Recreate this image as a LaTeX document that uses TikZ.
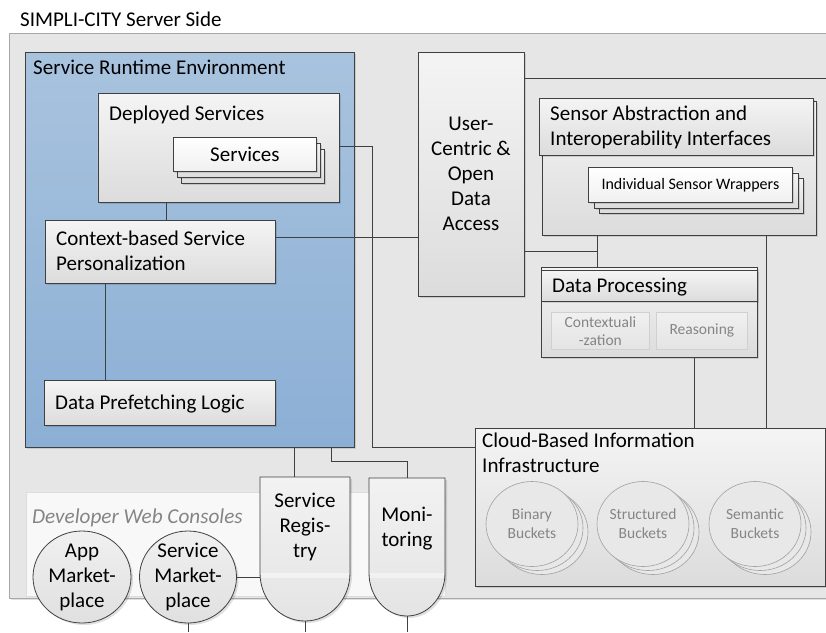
\documentclass[tikz,border=0pt]{standalone}
\usepackage{fontspec}
\setmainfont{Carlito}
\usetikzlibrary{shapes.geometric,shadows}
\definecolor{outerfill}{HTML}{E6E6E6}
\definecolor{outerline}{HTML}{A8A8A8}
\definecolor{linec}{HTML}{404040}
\definecolor{boxtop}{HTML}{F4F4F4}
\definecolor{boxbot}{HTML}{DCDCDC}
\definecolor{bluetop}{HTML}{A8C3DE}
\definecolor{bluebot}{HTML}{8CAFD5}
\definecolor{graytext}{HTML}{858585}
\definecolor{lightline}{HTML}{D0D0D0}
\definecolor{bucketline}{HTML}{A0A0A0}
\definecolor{consolefill}{HTML}{F8F8F8}
\definecolor{consoleline}{HTML}{DDDDDD}
\definecolor{F0F0F0}{HTML}{F0F0F0}
\definecolor{E4E4E4}{HTML}{E4E4E4}
\definecolor{E8E8E8}{HTML}{E8E8E8}
\definecolor{E0E0E0}{HTML}{E0E0E0}
\definecolor{F2F2F2}{HTML}{F2F2F2}
\definecolor{DEDEDE}{HTML}{DEDEDE}
\begin{document}
\begin{tikzpicture}[x=1pt,y=-1pt,
  shad/.style={drop shadow={shadow xshift=2pt,shadow yshift=-2pt,fill=black,opacity=0.12}},
  box/.style={draw=linec,line width=0.8pt,top color=boxtop,bottom color=boxbot,inner sep=0pt,anchor=north west,shad},
  lbox/.style={draw=lightline,line width=0.8pt,top color=F0F0F0,bottom color=E4E4E4,inner sep=0pt,anchor=north west},
  bucket/.style={ellipse,draw=bucketline,line width=0.6pt,fill=E8E8E8,inner sep=0pt,minimum width=92pt,minimum height=85pt},
  circ/.style={ellipse,draw=linec,line width=0.8pt,top color=F0F0F0,bottom color=E0E0E0,inner sep=0pt,minimum width=98pt,minimum height=92pt,shad},
  big/.style={font=\fontsize{21}{25}\selectfont,inner sep=0pt,text=black},
  small/.style={font=\fontsize{16}{19}\selectfont,inner sep=0pt},
  graysmall/.style={font=\fontsize{15.5}{19}\selectfont,inner sep=0pt,text=graytext},
  conn/.style={draw=linec,line width=0.8pt},
  cylshape/.style={draw=linec,line width=0.8pt,top color=F2F2F2,bottom color=E4E4E4,shad},
]
\useasboundingbox (0,0) rectangle (826,632);
\clip (0,0) rectangle (826,632);
\fill[white] (0,0) rectangle (826,632);

% title
\node[big,anchor=base west] (title) at (20,26) {SIMPLI-CITY Server Side};

% outer server box
\node[draw=outerline,fill=outerfill,line width=0.8pt,inner sep=0pt,anchor=north west,minimum width=831pt,minimum height=565pt,shad] (server) at (9,33) {};

% developer web consoles
\node[draw=consoleline,fill=consolefill,line width=0.6pt,inner sep=0pt,anchor=north west,minimum width=419pt,minimum height=104pt] (consoles) at (26,492) {};
\node[big,anchor=base west,text=graytext,font=\fontsize{21.2}{25}\selectfont\itshape] (consolestxt) at (32,523) {Developer Web Consoles};

% service runtime environment
\node[draw=linec,line width=0.8pt,top color=bluetop,bottom color=bluebot,inner sep=0pt,anchor=north west,minimum width=329pt,minimum height=395pt,shad] (sre) at (25,52) {};
\node[big,anchor=base west] (sretxt) at (33,74) {Service Runtime Environment};

% deployed services
\node[box,minimum width=241.5pt,minimum height=109pt] (ds) at (97.5,93) {};
\node[big,anchor=base west] (dstxt) at (109,120) {Deployed Services};
\node[box,minimum width=143pt,minimum height=34pt] (sv3) at (181,149) {};
\node[box,minimum width=143pt,minimum height=34pt] (sv2) at (177,143) {};
\node[box,minimum width=143pt,minimum height=34pt,top color=white,bottom color=F0F0F0] (sv1) at (173,137) {};
\node[big] (svtxt) at (sv1.center) {Services};

% context-based service personalization
\node[box,minimum width=230pt,minimum height=63pt] (ctx) at (45,220) {};
\node[big,anchor=north west,align=left] (ctxtxt) at (56,231) {Context-based Service\\Personalization};

% data prefetching logic
\node[box,minimum width=231pt,minimum height=45pt] (dpl) at (44,380) {};
\node[big,anchor=base west] (dpltxt) at (55,409) {Data Prefetching Logic};

% user-centric & open data access
\node[box,minimum width=106pt,minimum height=244pt] (uc) at (418,52) {};
\node[big,anchor=north,align=center] (uctxt) at (471,117) {User-\\Centric \&\\Open\\Data\\Access};

% sensor abstraction
\node[box,minimum width=274pt,minimum height=134pt] (sai) at (542,101) {};
\node[box,minimum width=274pt,minimum height=57pt] (saih) at (539,98) {};
\node[big,anchor=north west,align=left] (saitxt) at (550,106) {Sensor Abstraction and\\Interoperability Interfaces};
\node[box,minimum width=204pt,minimum height=35pt] (isw3) at (599,178) {};
\node[box,minimum width=204pt,minimum height=35pt] (isw2) at (593.5,172.5) {};
\node[box,minimum width=204pt,minimum height=35pt,top color=white,bottom color=F0F0F0] (isw1) at (588,167) {};
\node[small] (iswtxt) at (isw1.center) {Individual Sensor Wrappers};

% data processing
\node[box,minimum width=216pt,minimum height=90pt] (dp) at (541,267) {};
\node[box,minimum width=216pt,minimum height=31pt] (dph) at (541,270) {};
\node[big,anchor=base west] (dptxt) at (552,292) {Data Processing};
\node[lbox,minimum width=98pt,minimum height=37pt] (ctxz) at (551,312) {};
\node[graysmall,align=center,font=\fontsize{15.5}{18}\selectfont] (ctxztxt) at (ctxz.center) {Contextuali\\-zation};
\node[lbox,minimum width=91pt,minimum height=37pt] (reas) at (656,312) {};
\node[graysmall] (reastxt) at (reas.center) {Reasoning};

% cloud-based information infrastructure
\node[box,minimum width=350pt,minimum height=158pt] (cloud) at (475,428) {};
\node[big,anchor=north west,align=left] (cloudtxt) at (482,433) {Cloud-Based Information\\Infrastructure};
\foreach \cx/\nm/\tx in {532/bin/Binary, 643/str/Structured, 755/sem/Semantic}{
  \node[bucket] (\nm3) at (\cx+10,532) {};
  \node[bucket] (\nm2) at (\cx+5,528) {};
  \node[bucket] (\nm1) at (\cx,524) {};
  \node[graysmall,align=center] (\nm txt) at (\nm1.center) {\tx\\Buckets};
}

% app / service marketplace
\node[circ] (app) at (82,577) {};
\node[big,align=center] (apptxt) at (app.center) {App\\Market-\\place};
\node[circ,minimum width=97pt] (sm) at (188,577) {};
\node[big,align=center] (smtxt) at (sm.center) {Service\\Market-\\place};

% service registry
\path[cylshape] (260,477) -- (350,477) -- (350,573) arc[start angle=0,end angle=180,x radius=45,y radius=48] -- cycle;
\fill[white,opacity=0.45] (261,573) rectangle (349,578);
\node[big,anchor=north,align=center] (sr) at (305,493) {Service\\Regis-\\try};
\coordinate (srtop) at (294,477);
\coordinate (srleft) at (260,577);
\coordinate (srbot) at (305,621);

% monitoring
\path[cylshape] (369,478) -- (445,478) -- (445,573) arc[start angle=0,end angle=180,x radius=38,y radius=43] -- cycle;
\fill[white,opacity=0.45] (370,573) rectangle (444,578);
\node[big,anchor=north,align=center] (mon) at (407,507) {Moni-\\toring};
\coordinate (montop) at (407,478);
\coordinate (monbot) at (407,616);

% helper coordinates
\coordinate (x166) at (166,0);
\coordinate (x105) at (105,0);
\coordinate (y146) at (0,146);
\coordinate (b1) at (372,447);
\coordinate (y237) at (0,237);
\coordinate (y78) at (0,78);
\coordinate (redge) at (830,78);
\coordinate (j1) at (597,251);
\coordinate (x766) at (766,0);
\coordinate (x694) at (694,0);
\coordinate (x294) at (294,0);
\coordinate (x331) at (331,0);
\coordinate (b2) at (407,461);
\coordinate (smend) at (188,632);
\coordinate (srend) at (305,632);
\coordinate (monend) at (407,632);

% connectors
\draw[conn] (ds.south -| x166) -- (ctx.north -| x166);
\draw[conn] (ctx.south -| x105) -- (dpl.north -| x105);
\draw[conn] (ds.east |- y146) -| (b1) -- (cloud.west |- b1);
\draw[conn] (ctx.east |- y237) -- (uc.west |- y237);
\draw[conn] (uc.east |- y78) -- (redge);
\draw[conn] (uc.east |- j1) -- (j1);
\draw[conn] (sai.south -| j1) -- (dp.north -| j1);
\draw[conn] (sai.south -| x766) -- (cloud.north -| x766);
\draw[conn] (dp.south -| x694) -- (cloud.north -| x694);
\draw[conn] (sre.south -| x294) -- (srtop);
\draw[conn] (sre.south -| x331) |- (b2) -- (montop);
\draw[conn] (sm.east) -- (srleft);
\draw[conn] (sm.south) -- (smend);
\draw[conn] (srbot) -- (srend);
\draw[conn] (monbot) -- (monend);
\end{tikzpicture}
\end{document}
